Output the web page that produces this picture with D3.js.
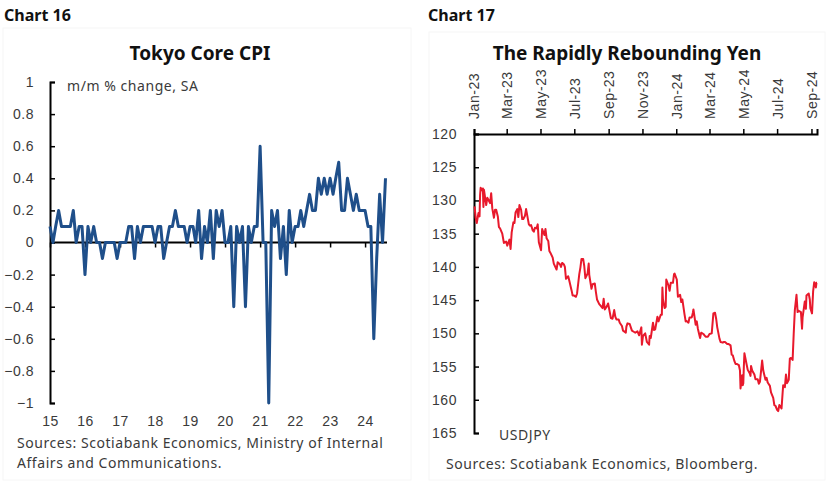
<!DOCTYPE html>
<html><head><meta charset="utf-8">
<script src="https://cdn.jsdelivr.net/npm/d3@7"></script>
<style>
body{margin:0;background:#fff;}
svg{display:block;font-family:"Noto Sans",sans-serif;}
.lbl{fill:#3a3a3a;font-size:14px;letter-spacing:0.55px;}
</style></head><body>
<svg id="c" width="828" height="483"></svg>
<script>
// ---------- Chart 16 data ----------
const cpiStart = "2015-01";
const cpiValues = [
 0.1,0,0.1,0.2,0.1,0.1,0.1,0.1,0.2,0,0.1,0.1,
 -0.2,0.1,0,0.1,0,0,-0.1,0,0,0,0,-0.1,
 0,0,0,0.1,0.1,-0.1,0.1,0,0.1,0.1,0.1,0.1,
 0,0.1,0.1,-0.1,0,0.1,0.1,0.2,0.1,0.1,0.1,0,
 0.1,0.1,0,0.2,-0.1,0.1,0,0.2,-0.1,0.2,0.1,0.2,
 0,0,0.1,-0.4,0.1,0,0.1,-0.4,0.1,0,0.1,0.1,
 0.6,0,0,-1.0,0.2,0.1,0.2,-0.1,0.1,-0.2,0.2,0,
 0.1,0.1,0.2,0.1,0.2,0.3,0.2,0.2,0.4,0.3,0.4,0.3,
 0.4,0.3,0.4,0.5,0.2,0.2,0.4,0.3,0.2,0.3,0.2,0.2,
 0.2,0.1,0.1,-0.6,-0.1,0.3,0,0.4
];
const cpiYTicks = [1,0.8,0.6,0.4,0.2,0,-0.2,-0.4,-0.6,-0.8,-1];
const cpiXLabels = ["15","16","17","18","19","20","21","22","23","24"];

// ---------- Chart 17 data ----------
const yenDates = [
"2023-01-02","2023-01-04","2023-01-06","2023-01-09","2023-01-11","2023-01-12","2023-01-13","2023-01-16","2023-01-17","2023-01-18","2023-01-19","2023-01-23","2023-01-25","2023-01-27","2023-01-30",
"2023-02-01","2023-02-03","2023-02-06","2023-02-08","2023-02-10","2023-02-13","2023-02-15","2023-02-17","2023-02-21","2023-02-24","2023-02-28",
"2023-03-02","2023-03-06","2023-03-08","2023-03-10","2023-03-13","2023-03-15","2023-03-17","2023-03-20","2023-03-22","2023-03-24","2023-03-27","2023-03-29","2023-03-31",
"2023-04-03","2023-04-05","2023-04-07","2023-04-10","2023-04-12","2023-04-14","2023-04-17","2023-04-19","2023-04-21","2023-04-24","2023-04-26","2023-04-28",
"2023-05-02","2023-05-04","2023-05-08","2023-05-10","2023-05-12","2023-05-15","2023-05-17","2023-05-19","2023-05-23","2023-05-25","2023-05-30",
"2023-06-01","2023-06-05","2023-06-07","2023-06-09","2023-06-12","2023-06-14","2023-06-16","2023-06-20","2023-06-22","2023-06-26","2023-06-28","2023-06-30",
"2023-07-04","2023-07-06","2023-07-10","2023-07-12","2023-07-14","2023-07-17","2023-07-19","2023-07-21","2023-07-25","2023-07-27","2023-07-28",
"2023-08-01","2023-08-03","2023-08-07","2023-08-09","2023-08-11","2023-08-15","2023-08-17","2023-08-21","2023-08-23","2023-08-25","2023-08-29","2023-08-31",
"2023-09-05","2023-09-08","2023-09-11","2023-09-13","2023-09-15","2023-09-19","2023-09-21","2023-09-25","2023-09-27",
"2023-10-02","2023-10-03","2023-10-05","2023-10-09","2023-10-11","2023-10-13","2023-10-17","2023-10-19","2023-10-23","2023-10-26","2023-10-30","2023-10-31",
"2023-11-02","2023-11-06","2023-11-09","2023-11-13","2023-11-14","2023-11-16","2023-11-20","2023-11-22","2023-11-24","2023-11-28","2023-11-30",
"2023-12-04","2023-12-06","2023-12-07","2023-12-08","2023-12-11","2023-12-13","2023-12-14","2023-12-18","2023-12-20","2023-12-22","2023-12-26","2023-12-28","2023-12-29",
"2024-01-02","2024-01-04","2024-01-08","2024-01-10","2024-01-12","2024-01-16","2024-01-18","2024-01-19","2024-01-23","2024-01-25","2024-01-29","2024-01-31",
"2024-02-01","2024-02-05","2024-02-07","2024-02-09","2024-02-13","2024-02-15","2024-02-19","2024-02-21","2024-02-23","2024-02-27",
"2024-03-01","2024-03-05","2024-03-07","2024-03-08","2024-03-11","2024-03-13","2024-03-15","2024-03-19","2024-03-21","2024-03-25","2024-03-27","2024-03-29",
"2024-04-02","2024-04-04","2024-04-08","2024-04-10","2024-04-12","2024-04-15","2024-04-17","2024-04-19","2024-04-23","2024-04-25","2024-04-26","2024-04-29","2024-04-30",
"2024-05-01","2024-05-02","2024-05-03","2024-05-07","2024-05-09","2024-05-13","2024-05-14","2024-05-15","2024-05-17","2024-05-21","2024-05-23","2024-05-27","2024-05-29","2024-05-31",
"2024-06-04","2024-06-06","2024-06-10","2024-06-12","2024-06-14","2024-06-18","2024-06-20","2024-06-24","2024-06-26","2024-06-28",
"2024-07-01","2024-07-03","2024-07-05","2024-07-09","2024-07-11","2024-07-12","2024-07-15","2024-07-17","2024-07-19","2024-07-22","2024-07-24","2024-07-26","2024-07-29","2024-07-31",
"2024-08-02","2024-08-05","2024-08-07","2024-08-09","2024-08-13","2024-08-15","2024-08-16","2024-08-20","2024-08-22","2024-08-23","2024-08-27","2024-08-29","2024-08-30",
"2024-09-02","2024-09-04","2024-09-06","2024-09-09","2024-09-10","2024-09-11"
];
const yenValues = [
130.9,132.6,133.4,131.9,132.4,129.2,128.1,128.5,128.2,131.0,128.4,130.7,129.6,129.9,130.4,
128.9,131.2,132.6,131.4,131.4,132.4,134.0,134.2,135.0,136.4,136.2,
136.8,135.9,137.3,134.8,133.3,133.4,131.8,131.3,132.5,130.7,131.4,132.8,132.8,
132.3,131.3,132.2,133.6,133.8,133.7,134.5,134.7,134.1,134.2,133.6,136.3,
137.5,134.3,135.2,134.3,135.7,136.1,137.6,137.9,138.6,139.5,140.4,
139.3,139.6,140.0,139.4,139.6,140.0,141.8,141.4,142.1,143.5,144.3,144.3,
144.5,144.0,141.1,140.1,138.8,138.8,139.9,141.7,141.0,139.5,141.2,
143.3,142.6,142.5,143.8,144.9,145.6,145.8,146.2,144.8,146.4,145.9,145.5,
147.7,147.8,146.5,147.5,147.9,147.9,148.4,148.9,149.6,
149.9,149.0,148.5,148.6,149.1,149.6,149.8,149.9,149.7,150.3,149.1,151.7,
150.4,150.0,151.3,151.7,150.4,150.7,148.4,149.5,149.4,147.5,148.2,
147.2,147.2,143.1,144.9,146.2,146.0,141.9,142.8,143.6,142.4,142.4,141.1,141.0,
141.9,144.5,144.2,145.3,144.9,147.2,148.2,148.1,148.4,147.6,147.6,146.9,
146.4,148.7,148.2,149.3,150.7,149.9,150.1,150.3,150.5,150.5,
150.1,150.0,148.0,147.0,146.9,147.8,149.1,150.8,151.3,151.4,151.3,151.3,
151.6,151.6,151.8,153.2,153.3,154.2,154.6,154.6,154.8,155.6,158.3,156.3,157.8,
157.5,155.0,153.0,154.7,155.5,156.1,156.4,154.9,155.6,156.2,156.9,156.9,157.6,157.3,
154.1,155.6,157.0,156.7,157.4,157.9,158.9,159.7,160.8,160.9,
161.5,161.7,160.8,161.3,158.9,157.8,158.1,156.2,157.5,157.0,153.8,153.7,154.0,150.0,
146.5,144.2,146.8,146.6,146.8,149.3,147.6,145.2,146.3,144.3,144.0,144.9,146.2,
147.0,143.7,142.3,143.1,142.4,142.4
];
const yenYTicks = [120,125,130,135,140,145,150,155,160,165];
const yenXTicks = ["2023-01-01","2023-03-01","2023-05-01","2023-07-01","2023-09-01","2023-11-01","2024-01-01","2024-03-01","2024-05-01","2024-07-01","2024-09-01"];

const svg = d3.select("#c");
const parseM = d3.timeParse("%Y-%m");
const parseD = d3.timeParse("%Y-%m-%d");

// panel frames (very light)
svg.append("rect").attr("x",3).attr("y",28).attr("width",408).attr("height",452).attr("fill","none").attr("stroke","#f6f6f6");
svg.append("rect").attr("x",429).attr("y",32).attr("width",396).attr("height",448).attr("fill","none").attr("stroke","#f6f6f6");

// ================= Chart 16 =================
svg.append("text").attr("x",4).attr("y",21).attr("font-size",16).attr("font-weight","bold").attr("fill","#111").text("Chart 16");
svg.append("text").attr("x",200).attr("y",60).attr("text-anchor","middle").attr("font-size",19).attr("font-weight","bold").attr("fill","#111").text("Tokyo Core CPI");

const t0 = parseM(cpiStart);
const cpiData = cpiValues.map((v,i)=>({d:d3.timeMonth.offset(t0,i),v}));
const x1 = d3.scaleTime().domain([t0, cpiData[cpiData.length-1].d]).range([50,385.5]);
const y1 = d3.scaleLinear().domain([-1,1]).range([403,82]);

// y axis
const ya1 = svg.append("g").attr("transform","translate(50,0)")
  .call(d3.axisLeft(y1).tickValues(cpiYTicks).tickSize(-5).tickPadding(16).tickFormat(d=>d3.format("")(+d.toFixed(1))));
ya1.select(".domain").attr("stroke","#000").attr("stroke-width",2);
ya1.selectAll(".tick line").attr("stroke","#000").attr("stroke-width",1.5);
ya1.selectAll(".tick text").attr("class","lbl").attr("font-family",null).attr("font-size",null).attr("fill",null);

// x axis at zero (ticks only)
const yearTicks = cpiXLabels.map(s=>new Date(2000+ +s,0,1));
const xa1 = svg.append("g").attr("transform",`translate(0,${y1(0)})`)
  .call(d3.axisBottom(x1).tickValues(yearTicks).tickSize(5).tickFormat(""));
xa1.select(".domain").attr("d",`M50,0H387`).attr("stroke","#000").attr("stroke-width",2);
xa1.selectAll(".tick line").attr("stroke","#000").attr("stroke-width",1.5);

// x labels at bottom
const xl1 = svg.append("g").attr("transform","translate(0,416)")
  .call(d3.axisBottom(x1).tickValues(yearTicks).tickSize(0).tickPadding(0).tickFormat((d,i)=>cpiXLabels[i]));
xl1.select(".domain").remove();
xl1.selectAll(".tick text").attr("class","lbl").attr("font-family",null).attr("font-size",null).attr("fill",null);

svg.append("text").attr("class","lbl").attr("x",67).attr("y",91).text("m/m % change, SA");

svg.append("path").datum(cpiData)
  .attr("d",d3.line().x(d=>x1(d.d)).y(d=>y1(d.v)))
  .attr("fill","none").attr("stroke","#1f4f8a").attr("stroke-width",3).attr("stroke-linejoin","round");

svg.append("text").attr("class","lbl").attr("x",17).attr("y",448).text("Sources: Scotiabank Economics, Ministry of Internal");
svg.append("text").attr("class","lbl").attr("x",17).attr("y",468).text("Affairs and Communications.");

// ================= Chart 17 =================
svg.append("text").attr("x",428).attr("y",21).attr("font-size",16).attr("font-weight","bold").attr("fill","#111").text("Chart 17");
svg.append("text").attr("x",627).attr("y",60).attr("text-anchor","middle").attr("font-size",19).attr("font-weight","bold").attr("fill","#111").text("The Rapidly Rebounding Yen");

const yenData = yenDates.map((s,i)=>({d:parseD(s),v:yenValues[i]}));
const x2 = d3.scaleTime().domain([parseD("2023-01-01"),parseD("2024-09-11")]).range([474,817]);
const y2 = d3.scaleLinear().domain([120,165]).range([134,433]);

const ya2 = svg.append("g").attr("transform","translate(474,0)")
  .call(d3.axisLeft(y2).tickValues(yenYTicks).tickSize(-5).tickPadding(17));
ya2.select(".domain").attr("stroke","#000").attr("stroke-width",2);
ya2.selectAll(".tick line").attr("stroke","#000").attr("stroke-width",1.5);
ya2.selectAll(".tick text").attr("class","lbl").attr("font-family",null).attr("font-size",null).attr("fill",null);

const xa2 = svg.append("g").attr("transform","translate(0,134)")
  .call(d3.axisTop(x2).tickValues(yenXTicks.map(parseD)).tickSize(5).tickFormat(d3.timeFormat("%b-%y")));
xa2.select(".domain").attr("stroke","#000").attr("stroke-width",2);
xa2.selectAll(".tick line").attr("stroke","#000").attr("stroke-width",1.5);
xa2.selectAll(".tick text").attr("class","lbl").attr("font-family",null).attr("font-size",null).attr("fill",null)
  .attr("transform","rotate(-90)").attr("text-anchor","start").attr("x",15).attr("y",0).attr("dy","0.35em");

svg.append("path").datum(yenData)
  .attr("d",d3.line().x(d=>x2(d.d)).y(d=>y2(d.v)))
  .attr("fill","none").attr("stroke","#e8192c").attr("stroke-width",2).attr("stroke-linejoin","round");

svg.append("text").attr("class","lbl").attr("x",499).attr("y",440).text("USDJPY");
svg.append("text").attr("class","lbl").attr("x",446).attr("y",469).text("Sources: Scotiabank Economics, Bloomberg.");
</script>
</body></html>
